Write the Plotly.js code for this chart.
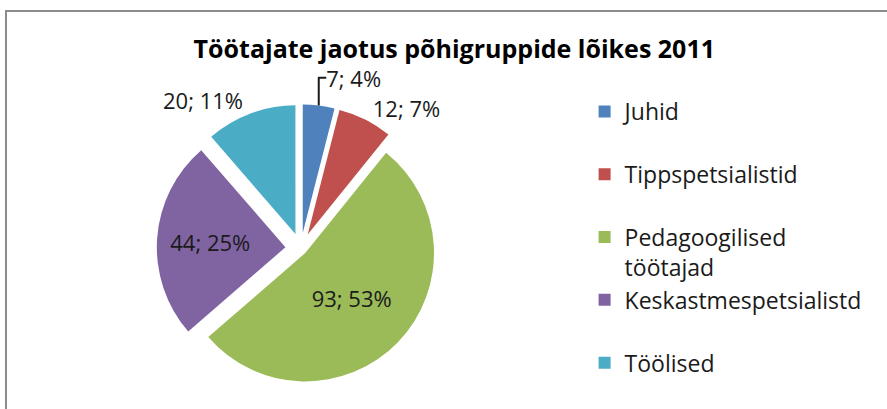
<!DOCTYPE html>
<html>
<head>
<meta charset="utf-8">
<script src="https://cdn.plot.ly/plotly-3.0.1.min.js"></script>
<style>
html,body{margin:0;padding:0;background:#fff;overflow:hidden;width:887px;height:409px;}
#chart{position:absolute;left:5px;top:10px;width:900px;height:420px;border-left:2px solid #8c8c8c;border-top:2px solid #8c8c8c;}
</style>
</head>
<body>
<div id="chart"></div>
<script>
const categories = ["Juhid", "Tippspetsialistid", "Pedagoogilised töötajad", "Keskastmespetsialistd", "Töölised"];
const values = [7, 12, 93, 44, 20];
const colors = ["#4F81BD", "#C0504D", "#9BBB59", "#8064A2", "#4BACC6"];

// legend labels: wrap long name, pad entries to two lines for even spacing
const legendLabels = categories.map(c => {
  const wrapped = c.length > 22 ? c.replace(" ", "<br>") : c;
  const lines = wrapped.split("<br>").length;
  return wrapped + "<br>\u00a0".repeat(Math.max(0, 2 - lines));
});

const FONT = "'Open Sans', sans-serif";

const trace = {
  type: "pie",
  labels: legendLabels,
  values: values,
  sort: false,
  direction: "clockwise",
  rotation: 0,
  pull: [0.12, 0.12, 0.05, 0.12, 0.12],
  marker: {colors: colors, line: {color: "#ffffff", width: 0}},
  texttemplate: "%{value}; %{percent:.0%}",
  textposition: ["outside", "outside", "inside", "inside", "outside"],
  insidetextorientation: "horizontal",
  textfont: {family: FONT, size: 22, color: "#1a1a1a"},
  outsidetextfont: {family: FONT, size: 22, color: "#1a1a1a"},
  insidetextfont: {family: FONT, size: 22, color: "#1a1a1a"},
  domain: {x: [0.0, 0.645], y: [0.03, 0.93]},
  hoverinfo: "label+value+percent"
};

const layout = {
  width: 900,
  height: 420,
  margin: {l: 10, r: 10, t: 70, b: 30},
  paper_bgcolor: "#ffffff",
  title: {
    text: "<b>Töötajate jaotus põhigruppide lõikes 2011</b>",
    font: {family: FONT, size: 25, color: "#000000"},
    x: 0.497, xanchor: "center", y: 0.912, yanchor: "middle"
  },
  showlegend: true,
  legend: {
    x: 0.645, xanchor: "left",
    y: 0.975, yanchor: "top",
    valign: "top",
    font: {family: FONT, size: 23, color: "#1a1a1a"},
    itemwidth: 30
  }
};

Plotly.newPlot("chart", [trace], layout, {displayModeBar: false, staticPlot: true});
</script>
</body>
</html>
